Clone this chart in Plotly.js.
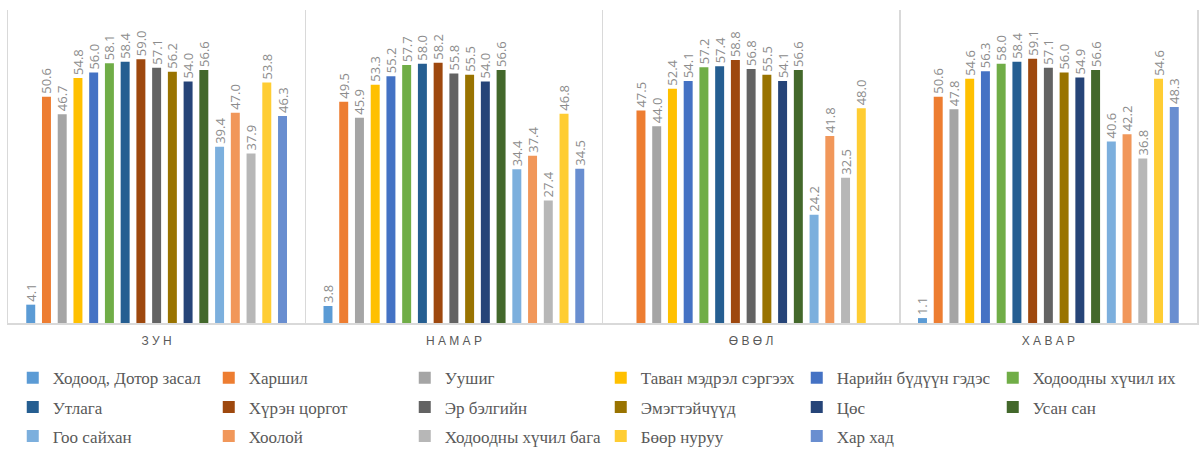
<!DOCTYPE html>
<html>
<head>
<meta charset="utf-8">
<script src="https://cdn.plot.ly/plotly-3.0.1.min.js"></script>
<style>
  html, body { margin: 0; padding: 0; background: #fff; }
  #chart { width: 1200px; height: 450px; }
</style>
</head>
<body>
<div id="chart"></div>
<script>
// Seasons on the category axis
const categories = ['ЗУН', 'НАМАР', 'ӨВӨЛ', 'ХАВАР'];
const tickLabels = ['З У Н', 'Н А М А Р', 'Ө В Ө Л', 'Х А В А Р'];

// Series names (legend order)
const seriesNames = [
  'Ходоод, Дотор засал', 'Харшил', 'Уушиг', 'Таван мэдрэл сэргээх',
  'Нарийн бүдүүн гэдэс', 'Ходоодны хүчил их', 'Утлага', 'Хүрэн цоргот',
  'Эр бэлгийн', 'Эмэгтэйчүүд', 'Цөс', 'Усан сан',
  'Гоо сайхан', 'Хоолой', 'Ходоодны хүчил бага', 'Бөөр нуруу', 'Хар хад'
];

// Values per season, one entry per series (null = no value)
const zun   = [4.1, 50.6, 46.7, 54.8, 56.0, 58.1, 58.4, 59.0, 57.1, 56.2, 54.0, 56.6, 39.4, 47.0, 37.9, 53.8, 46.3];
const namar = [3.8, 49.5, 45.9, 53.3, 55.2, 57.7, 58.0, 58.2, 55.8, 55.5, 54.0, 56.6, 34.4, 37.4, 27.4, 46.8, 34.5];
const uvul  = [null, 47.5, 44.0, 52.4, 54.1, 57.2, 57.4, 58.8, 56.8, 55.5, 54.1, 56.6, 24.2, 41.8, 32.5, 48.0, null];
const khavar = [1.1, 50.6, 47.8, 54.6, 56.3, 58.0, 58.4, 59.1, 57.1, 56.0, 54.9, 56.6, 40.6, 42.2, 36.8, 54.6, 48.3];

const seriesColors = [
  '#5B9BD5', '#ED7D31', '#A5A5A5', '#FFC000', '#4472C4', '#70AD47',
  '#255E91', '#9E480E', '#636363', '#997300', '#264478', '#43682B',
  '#7CAFDD', '#F1975A', '#B7B7B7', '#FFCD33', '#698ED0'
];

// Three legend rows of six entries each
const legendIds = ['legend', 'legend2', 'legend3'];

const traces = seriesNames.map((name, i) => ({
  type: 'bar',
  name: name,
  x: categories,
  y: [zun[i], namar[i], uvul[i], khavar[i]],
  marker: { color: seriesColors[i] },
  texttemplate: '%{y:.1f}',
  textposition: 'outside',
  textangle: -90,
  constraintext: 'none',
  cliponaxis: false,
  textfont: { family: 'Open Sans, sans-serif', size: 13, color: '#8c8c8c' },
  legend: legendIds[Math.floor(i / 6)],
  hoverinfo: 'x+y+name'
}));

const legendBase = {
  orientation: 'h',
  xref: 'paper',
  yref: 'paper',
  x: 0.004,
  xanchor: 'left',
  yanchor: 'top',
  entrywidth: 151,
  entrywidthmode: 'pixels',
  itemclick: false,
  itemdoubleclick: false,
  font: { family: 'Liberation Serif, serif', size: 17, color: '#595959' },
  bgcolor: 'rgba(0,0,0,0)'
};

const layout = {
  width: 1200,
  height: 450,
  margin: { l: 8, r: 3, t: 10, b: 127, autoexpand: false },
  paper_bgcolor: '#ffffff',
  plot_bgcolor: '#ffffff',
  barmode: 'group',
  bargap: 0.1,
  bargroupgap: 0.43,
  showlegend: true,
  xaxis: {
    type: 'category',
    tickmode: 'array',
    tickvals: categories,
    ticktext: tickLabels,
    tickson: 'boundaries',
    ticks: '',
    showgrid: true,
    gridcolor: '#d9d9d9',
    gridwidth: 1.5,
    showline: true,
    linecolor: '#d9d9d9',
    linewidth: 1.5,
    ticklabelstandoff: 6,
    tickfont: { family: 'Liberation Sans, sans-serif', size: 12, color: '#595959' },
    fixedrange: true
  },
  yaxis: {
    range: [0, 70],
    showgrid: false,
    zeroline: false,
    showticklabels: false,
    ticks: '',
    showline: true,
    mirror: true,
    linecolor: '#d9d9d9',
    linewidth: 1.5,
    fixedrange: true
  },
  legend:  Object.assign({}, legendBase, { y: -0.119 }),
  legend2: Object.assign({}, legendBase, { y: -0.212 }),
  legend3: Object.assign({}, legendBase, { y: -0.305 })
};

Plotly.newPlot('chart', traces, layout, { displayModeBar: false, staticPlot: true });
</script>
</body>
</html>
